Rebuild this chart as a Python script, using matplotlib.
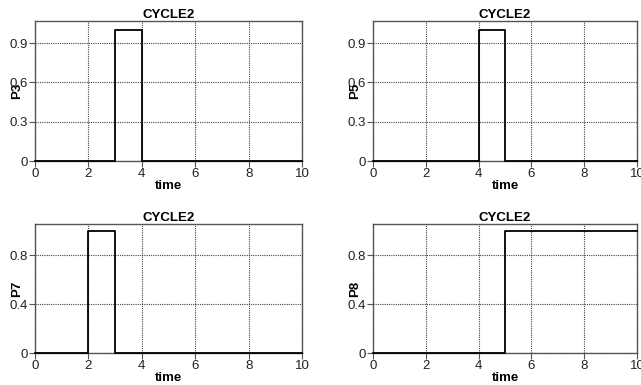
import matplotlib
matplotlib.use("Agg")
import matplotlib.pyplot as plt
from matplotlib import font_manager

names = {f.name for f in font_manager.fontManager.ttflist}
fam = "Liberation Sans Narrow" if "Liberation Sans Narrow" in names else "Liberation Sans"
plt.rcParams['font.family'] = [fam, 'DejaVu Sans']

# Data
time = [0, 1, 2, 3, 4, 5, 6, 7, 8, 9, 10]
P3 = [0, 0, 0, 1, 0, 0, 0, 0, 0, 0, 0]
P5 = [0, 0, 0, 0, 1, 0, 0, 0, 0, 0, 0]
P7 = [0, 0, 1, 0, 0, 0, 0, 0, 0, 0, 0]
P8 = [0, 0, 0, 0, 0, 1, 1, 1, 1, 1, 1]
title = "CYCLE2"
xticks = [0, 2, 4, 6, 8, 10]
yticks_top = [0, 0.3, 0.6, 0.9]
yticks_bot = [0, 0.4, 0.8]

W, H = 641, 385
fig = plt.figure(figsize=(W / 100, H / 100), dpi=100)

def box(l, r, t, b):
    return [l / W, 1 - b / H, (r - l) / W, (b - t) / H]

panels = [
    (box(35, 302, 21, 161), P3, "P3", yticks_top, ["0", "0.3", "0.6", "0.9"], 1.068),
    (box(373, 637, 21, 161), P5, "P5", yticks_top, ["0", "0.3", "0.6", "0.9"], 1.068),
    (box(35, 302, 224, 353), P7, "P7", yticks_bot, ["0", "0.8"[:0] + "0.4", "0.8"], 1.054),
    (box(373, 637, 224, 353), P8, "P8", yticks_bot, ["0", "0.4", "0.8"], 1.054),
]

for rect, y, lab, yt, ytl, ymax in panels:
    ax = fig.add_axes(rect)
    ax.step(time, y, where='post', color='black', lw=1.3, zorder=3, clip_on=False)
    ax.set_xlim(0, 10)
    ax.set_ylim(0, ymax)
    ax.set_xticks(xticks)
    ax.set_xticklabels([str(v) for v in xticks])
    ax.set_yticks(yt)
    ax.set_yticklabels(ytl)
    ax.grid(True, color='#444444', linestyle=(0, (1, 1)), lw=0.8)
    for s in ax.spines.values():
        s.set_color('#555555')
        s.set_linewidth(1.0)
    ax.tick_params(axis='both', direction='out', length=4, width=0.8, color='#555555',
                   labelsize=9.5, labelcolor='#222222', pad=1)
    ax.set_title(title, fontsize=9.5, fontweight='bold', pad=2)
    ax.set_xlabel("time", fontsize=9.5, fontweight='bold', labelpad=0)
    ax.set_ylabel(lab, fontsize=9.5, fontweight='bold', labelpad=-10)

fig.savefig("out.png", dpi=100)
